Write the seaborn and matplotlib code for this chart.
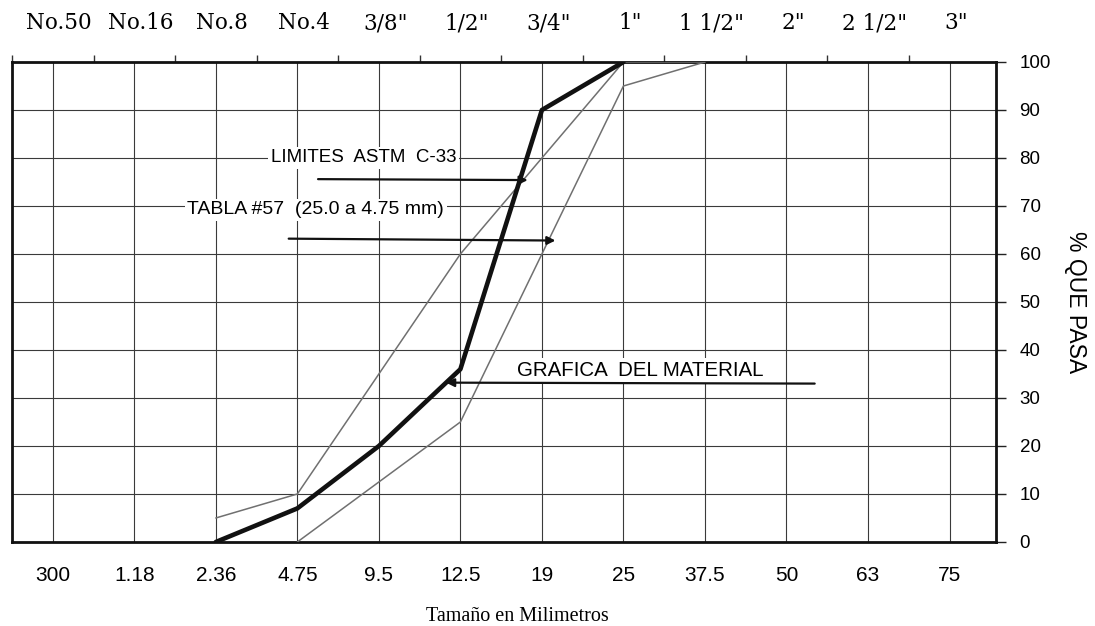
import matplotlib
matplotlib.use("Agg")
import matplotlib.pyplot as plt
import seaborn as sns
import pandas as pd
import numpy as np

# ---- data ----
sizes_mm = ["300", "1.18", "2.36", "4.75", "9.5", "12.5", "19", "25", "37.5", "50", "63", "75"]
sieves = ["No.50", "No.16", "No.8", "No.4", '3/8"', '1/2"', '3/4"', '1"', '1 1/2"', '2"', '2 1/2"', '3"']
y_ticks = [0, 10, 20, 30, 40, 50, 60, 70, 80, 90, 100]

material_sizes = ["2.36", "4.75", "9.5", "12.5", "19", "25"]
material_pass = [0, 7, 20, 36, 90, 100]

upper_sizes = ["2.36", "4.75", "12.5", "25", "37.5"]
upper_pass = [5, 10, 60, 100, 100]

lower_sizes = ["4.75", "12.5", "25", "37.5"]
lower_pass = [0, 25, 95, 100]

def to_df(sz, vals, name):
    return pd.DataFrame({"pos": [sizes_mm.index(s) for s in sz], "pasa": vals, "serie": name})

sns.set_style("white")
plt.rcParams['font.family'] = ['Liberation Sans', 'DejaVu Sans']
plt.rcParams['text.color'] = 'black'
plt.rcParams['xtick.color'] = 'black'
plt.rcParams['ytick.color'] = 'black'
plt.rcParams['axes.labelcolor'] = 'black'

fig = plt.figure(figsize=(10.95, 6.26), dpi=100)
ax = fig.add_axes([12/1095, 84/626, 984/1095, 480/626])

sns.lineplot(data=to_df(upper_sizes, upper_pass, "sup"), x="pos", y="pasa", ax=ax,
             color="#707070", lw=1.1, zorder=3)
sns.lineplot(data=to_df(lower_sizes, lower_pass, "inf"), x="pos", y="pasa", ax=ax,
             color="#707070", lw=1.1, zorder=3)
sns.lineplot(data=to_df(material_sizes, material_pass, "mat"), x="pos", y="pasa", ax=ax,
             color="#111111", lw=3.3, zorder=4)

ax.set_xlim(-0.49, 11.57)
ax.set_ylim(0, 100)

# grid
ax.set_xticks(range(len(sizes_mm)))
ax.set_xticklabels(sizes_mm, fontsize=15)
ax.set_yticks(y_ticks)
ax.grid(True, color="#3a3a3a", lw=0.8)
ax.set_axisbelow(True)

ax.tick_params(axis="x", which="major", bottom=False, top=False, length=0, pad=17)
ax.set_xticks(np.arange(len(sizes_mm)) - 0.5, minor=True)
ax.tick_params(axis="x", which="minor", top=True, bottom=False, direction="out", length=5, width=1, color="#333333")

ax.yaxis.tick_right()
ax.tick_params(axis="y", which="major", left=False, right=True, direction="out", length=7, width=1,
               color="#222222", labelsize=13.5, pad=10)
ax.yaxis.set_label_position("right")
ax.set_ylabel("% QUE PASA", rotation=270, fontsize=16.5, labelpad=26)
ax.set_xlabel("Tamaño en Milimetros", fontfamily="Liberation Serif", fontsize=14.5, labelpad=14)
ax.xaxis.set_label_coords(0.514, -0.135)

for s in ax.spines.values():
    s.set_visible(True)
    s.set_color("#111111")
    s.set_linewidth(2.0)

# top sieve labels
sec = ax.secondary_xaxis("top")
sec.set_xticks(np.arange(len(sieves)) + 0.08)
sec.set_xticklabels(sieves, fontfamily="DejaVu Serif", fontsize=15.5)
sec.tick_params(length=0, pad=20)
sec.spines["top"].set_visible(False)

# annotations
ax.text(3.81, 80, "LIMITES  ASTM  C-33", fontsize=13.5, ha="center", va="center",
        bbox=dict(fc="white", ec="none", pad=2), zorder=5)
ax.annotate("", xy=(5.86, 75.4), xytext=(3.22, 75.6),
            arrowprops=dict(arrowstyle="-|>", color="#111111", lw=1.6, mutation_scale=12), zorder=5)

ax.text(1.65, 69.2, "TABLA #57  (25.0 a 4.75 mm)", fontsize=14, ha="left", va="center",
        bbox=dict(fc="white", ec="none", pad=2), zorder=5)
ax.annotate("", xy=(6.2, 62.8), xytext=(2.86, 63.2),
            arrowprops=dict(arrowstyle="-|>", color="#111111", lw=1.6, mutation_scale=12), zorder=5)

ax.text(5.69, 35.8, "GRAFICA  DEL MATERIAL", fontsize=14.8, ha="left", va="center",
        bbox=dict(fc="white", ec="none", pad=2), zorder=5)
ax.annotate("", xy=(4.79, 33.2), xytext=(9.38, 33.0),
            arrowprops=dict(arrowstyle="-|>", color="#111111", lw=1.6, mutation_scale=12), zorder=5)

fig.savefig("out.png", dpi=100)
